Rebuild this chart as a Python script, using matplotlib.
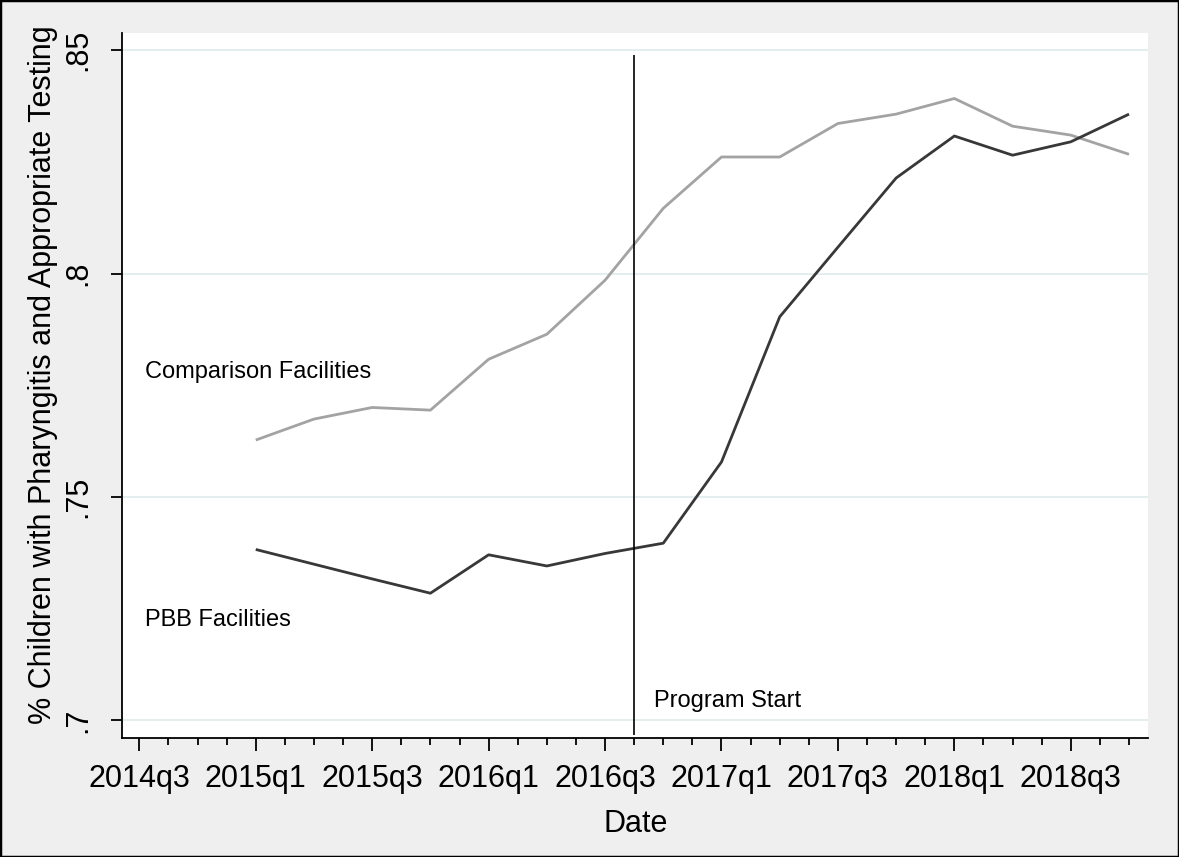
import matplotlib
matplotlib.use("Agg")
import matplotlib.pyplot as plt
from matplotlib.ticker import FixedLocator, MultipleLocator, FuncFormatter
from matplotlib.patches import Rectangle

# Quarterly series (Stata-style labels)
quarters = ["2015q1", "2015q2", "2015q3", "2015q4",
            "2016q1", "2016q2", "2016q3", "2016q4",
            "2017q1", "2017q2", "2017q3", "2017q4",
            "2018q1", "2018q2", "2018q3", "2018q4"]
comparison = [0.7627, 0.7674, 0.7700, 0.7694,
              0.7808, 0.7864, 0.7985, 0.8146,
              0.8261, 0.8261, 0.8336, 0.8357,
              0.8392, 0.8330, 0.8310, 0.8267]
pbb = [0.7382, 0.7349, 0.7316, 0.7284,
       0.7370, 0.7345, 0.7373, 0.7396,
       0.7578, 0.7903, 0.8059, 0.8214,
       0.8308, 0.8265, 0.8295, 0.8357]

tick_quarters = ["2014q3", "2015q1", "2015q3", "2016q1", "2016q3",
                 "2017q1", "2017q3", "2018q1", "2018q3"]
y_ticks = [0.70, 0.75, 0.80, 0.85]
y_ticklabels = [".7", ".75", ".8", ".85"]
program_start = "2016q3"      # line drawn half a quarter after this
label_comparison = "Comparison Facilities"
label_pbb = "PBB Facilities"
label_program = "Program Start"


def tq(s):
    """Quarter string -> Stata %tq number."""
    y, q = s.split("q")
    return (int(y) - 1960) * 4 + int(q) - 1


def tq_label(v, pos=None):
    v = int(round(v))
    return f"{1960 + v // 4}q{v % 4 + 1}"


x = [tq(q) for q in quarters]
x0 = tq("2014q3")
start_x = tq(program_start) + 0.5

plt.rcParams["font.family"] = ["Liberation Sans", "DejaVu Sans"]

fig = plt.figure(figsize=(11.79, 8.57), dpi=100, facecolor="#efefef")
ax = fig.add_axes([121.5 / 1179, 1 - 738 / 857, (1148 - 121.5) / 1179, (738 - 33) / 857])
ax.set_facecolor("white")

ax.set_xlim(x0 - 0.306, x0 + 17.326)
ax.set_ylim(0.69597, 0.85387)

# Grid
for yv in y_ticks:
    ax.axhline(yv, color="#e4eeee", lw=1.4, zorder=0)

ax.plot(x, comparison, color="#a3a3a3", lw=2.0, zorder=3, solid_capstyle="butt")
ax.plot(x, pbb, color="#383838", lw=2.0, zorder=4, solid_capstyle="butt")
ax.vlines(start_x, 0.6966, 0.849, color="black", lw=1.2, zorder=5)

ax.text(x0 + 0.098, 0.7779, label_comparison, fontsize=17, va="center", ha="left")
ax.text(x0 + 0.098, 0.7224, label_pbb, fontsize=17, va="center", ha="left")
ax.text(x0 + 8.84, 0.7043, label_program, fontsize=17, va="center", ha="left")

# Axes styling
for side in ("top", "right"):
    ax.spines[side].set_visible(False)
for side in ("left", "bottom"):
    ax.spines[side].set_linewidth(1.3)
    ax.spines[side].set_color("black")

ax.xaxis.set_major_locator(FixedLocator([tq(q) for q in tick_quarters]))
ax.xaxis.set_major_formatter(FuncFormatter(tq_label))
ax.xaxis.set_minor_locator(MultipleLocator(0.5))
ax.tick_params(axis="x", which="major", length=9, width=1.3, pad=9.5, labelsize=22)
ax.tick_params(axis="x", which="minor", length=5, width=1.3)

ax.set_yticks(y_ticks)
ax.set_yticklabels(y_ticklabels, rotation=90, va="center")
ax.tick_params(axis="y", which="major", length=8, width=1.3, pad=12, labelsize=22)

ax.set_xlabel("Date", fontsize=22)
ax.xaxis.set_label_coords(0.501, -0.100)
ax.xaxis.label.set_va("top")
ax.set_ylabel("% Children with Pharyngitis and Appropriate Testing", fontsize=22)
ax.yaxis.set_label_coords(-0.062, 0.515)

fig.patches.append(Rectangle((0, 0), 1, 1, transform=fig.transFigure,
                             fill=False, ec="black", lw=2.5, zorder=10))

fig.savefig("out.png", dpi=100, facecolor=fig.get_facecolor())
